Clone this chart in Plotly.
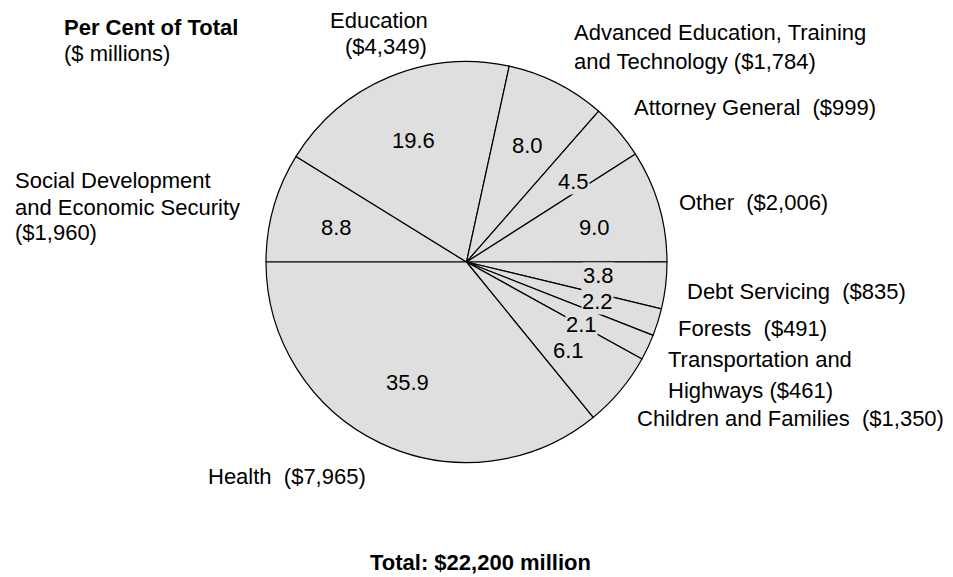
import plotly.graph_objects as go

# Spending by ministry, $ millions (clockwise from 9 o'clock)
ministries = [
    "Social Development and Economic Security",
    "Education",
    "Advanced Education, Training and Technology",
    "Attorney General",
    "Other",
    "Debt Servicing",
    "Forests",
    "Transportation and Highways",
    "Children and Families",
    "Health",
]
amounts = [1960, 4349, 1784, 999, 2006, 835, 491, 461, 1350, 7965]
percent_labels = ["8.8", "19.6", "8.0", "4.5", "9.0", "3.8", "2.2", "2.1", "6.1", "35.9"]
total_label = "Total: $22,200 million"

FONT = "Liberation Sans, Arial, Helvetica, sans-serif"
FILL = "#dfdfdf"
FS = 22

W, H = 953, 577
cx, cy, r = 466.5, 262, 200.5

fig = go.Figure(
    go.Pie(
        labels=ministries,
        values=amounts,
        sort=False,
        direction="clockwise",
        rotation=270,
        textinfo="none",
        hoverinfo="label+value+percent",
        marker=dict(colors=[FILL] * len(amounts), line=dict(color="#000000", width=1.2)),
        domain=dict(
            x=[(cx - r) / W, (cx + r) / W],
            y=[1 - (cy + r) / H, 1 - (cy - r) / H],
        ),
        showlegend=False,
    )
)


def px(x, y):
    return x / W, 1 - y / H


annotations = []


def add_text(text, x, y, xanchor="left", bold=False, bg=None):
    if xanchor == "left":
        x -= 2  # compensate for the annotation box padding
    ax, ay = px(x, y)
    a = dict(
        text=f"<b>{text}</b>" if bold else text,
        x=ax, y=ay, xref="paper", yref="paper",
        xanchor=xanchor, yanchor="middle",
        showarrow=False,
        font=dict(family=FONT, size=FS, color="#000000"),
    )
    if bg:
        a["bgcolor"] = bg
        a["borderpad"] = 0
    annotations.append(a)


# Percent labels inside the slices
pct_pos = [
    (336, 227), (413, 141), (527, 145), (573, 181), (594, 227),
    (598, 275), (597, 301), (581, 324), (568, 350), (407, 383),
]
for txt, (x, y) in zip(percent_labels, pct_pos):
    add_text(txt, x, y, xanchor="center", bg=FILL)

# Ministry labels with amounts
add_text("Per Cent of Total", 64, 27, bold=True)
add_text("($ millions)", 64, 53)
add_text("Education", 330, 20)
add_text("($4,349)", 345, 47)
add_text("Advanced Education, Training", 574, 33)
add_text("and Technology ($1,784)", 574, 61)
add_text("Attorney General  ($999)", 634, 107)
add_text("Other  ($2,006)", 679, 203)
add_text("Debt Servicing  ($835)", 687, 291)
add_text("Forests  ($491)", 678, 328)
add_text("Transportation and", 668, 359)
add_text("Highways ($461)", 668, 390)
add_text("Children and Families  ($1,350)", 637, 418)
add_text("Social Development", 15, 180)
add_text("and Economic Security", 15, 207)
add_text("($1,960)", 15, 233)
add_text("Health  ($7,965)", 208, 476)
add_text(total_label, 370, 562, bold=True)

fig.update_layout(
    width=W,
    height=H,
    margin=dict(l=0, r=0, t=0, b=0),
    paper_bgcolor="#ffffff",
    plot_bgcolor="#ffffff",
    annotations=annotations,
    font=dict(family=FONT, size=FS, color="#000000"),
)

fig.write_html("out.html")
